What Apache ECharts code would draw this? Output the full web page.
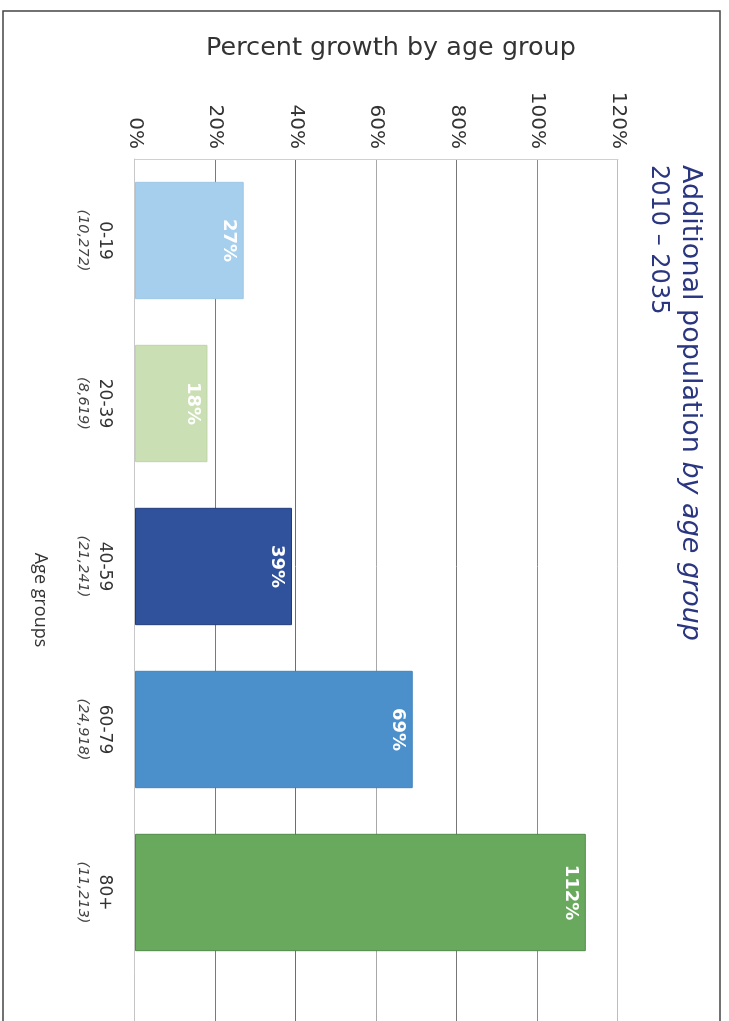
<!DOCTYPE html>
<html>
<head>
<meta charset="utf-8">
<script src="https://cdn.jsdelivr.net/npm/echarts@6/dist/echarts.min.js"></script>
<style>
  html, body { margin: 0; padding: 0; width: 729px; height: 1021px; overflow: hidden; background: #fff; }
  /* The chart is laid out as an ordinary column chart and turned a quarter turn clockwise on the page. */
  #chart {
    position: absolute; left: 0; top: 0;
    width: 1021px; height: 729px;
    transform-origin: 0 0;
    transform: translate(729px, 0) rotate(90deg);
  }
</style>
</head>
<body>
<div id="chart"></div>
<script>
// Age groups and how many people each adds, 2010 – 2035
const categories = ['0-19', '20-39', '40-59', '60-79', '80+'];
const additions = ['10,272', '8,619', '21,241', '24,918', '11,213'];
// Percent growth of each age group
const growthPct = [27, 18, 39, 69, 112];
// Percent ticks on the value axis
const pctMin = 0;
const pctMax = 120;
const pctStep = 20;

const barColors = ['#a6cfee', '#cadfb3', '#30519b', '#4b8fcb', '#69a95e'];
const barEdges = ['#9cc6e6', '#bfd5a8', '#1f3a7a', '#3f82bf', '#4f8a45'];
const gridColors = ['#c4c4c4', '#7a7a7a', '#6e6e6e', '#a8a8a8', '#777777', '#8a8a8a', '#bdbdbd'];
const navy = '#2a3680';

const chart = echarts.init(document.getElementById('chart'), null, { renderer: 'canvas' });

const valueAxisBase = {
  type: 'value',
  min: pctMin,
  max: pctMax,
  interval: pctStep,
  axisLine: { show: false },
  axisTick: { show: false },
  splitLine: { show: true, lineStyle: { color: gridColors, width: 1 } }
};

chart.setOption({
  backgroundColor: '#ffffff',
  animation: false,
  grid: [
    { left: 159, width: 815, top: 111, bottom: 135 },
    { left: 974, width: 120, top: 111, bottom: 135 }
  ],
  xAxis: [
    {
      type: 'category',
      gridIndex: 0,
      data: categories,
      axisLine: { show: true, lineStyle: { color: '#c8c8c8', width: 1 } },
      axisTick: { show: false },
      axisLabel: {
        margin: 20,
        formatter: (v, i) => '{a|' + v + '}\n{b|(' + additions[i] + ')}',
        rich: {
          a: { fontFamily: 'DejaVu Sans', fontSize: 17, color: '#333', lineHeight: 22, align: 'center' },
          b: { fontFamily: 'DejaVu Sans', fontSize: 14.5, fontStyle: 'italic', color: '#444', lineHeight: 20, align: 'center' }
        }
      }
    },
    {
      type: 'value',
      gridIndex: 1,
      show: false
    }
  ],
  yAxis: [
    Object.assign({}, valueAxisBase, {
      gridIndex: 0,
      axisLine: { show: true, lineStyle: { color: '#d0d0d0', width: 1 } },
      axisLabel: {
        margin: 10,
        formatter: '{value}%',
        fontFamily: 'DejaVu Sans',
        fontSize: 20,
        color: '#333'
      }
    }),
    Object.assign({}, valueAxisBase, {
      gridIndex: 1,
      axisLabel: { show: false }
    })
  ],
  series: [
    {
      type: 'bar',
      xAxisIndex: 0,
      yAxisIndex: 0,
      barCategoryGap: '28%',
      data: growthPct.map((v, i) => ({
        value: v,
        itemStyle: { color: barColors[i], borderColor: barEdges[i], borderWidth: 1 }
      })),
      label: {
        show: true,
        position: 'insideTop',
        distance: 6,
        formatter: '{c}%',
        color: '#ffffff',
        fontFamily: 'DejaVu Sans',
        fontWeight: 'bold',
        fontSize: 18
      }
    }
  ],
  graphic: [
    {
      type: 'rect',
      shape: { x: 11, y: 9, width: 1200, height: 717 },
      style: { fill: 'none', stroke: '#444', lineWidth: 1.5 },
      silent: true
    },
    {
      type: 'text',
      x: 165,
      y: 39,
      style: {
        text: '{n|Additional population }{i|by age group}',
        verticalAlign: 'middle',
        align: 'left',
        rich: {
          n: { fontFamily: 'DejaVu Sans', fontSize: 27, fill: navy },
          i: { fontFamily: 'DejaVu Sans', fontSize: 27, fontStyle: 'italic', fill: navy }
        }
      }
    },
    {
      type: 'text',
      x: 165,
      y: 71,
      style: {
        text: '2010 – 2035',
        fontFamily: 'DejaVu Sans',
        fontSize: 24,
        fill: navy,
        verticalAlign: 'middle',
        align: 'left'
      }
    },
    {
      type: 'text',
      x: 48,
      y: 338,
      rotation: Math.PI / 2,
      style: {
        text: 'Percent growth by age group',
        fontFamily: 'DejaVu Sans',
        fontSize: 25.5,
        fill: '#333',
        align: 'center',
        verticalAlign: 'middle'
      }
    },
    {
      type: 'text',
      x: 600,
      y: 689,
      style: {
        text: 'Age groups',
        fontFamily: 'Open Sans',
        fontSize: 18,
        fill: '#333',
        align: 'center',
        verticalAlign: 'middle'
      }
    }
  ]
});
</script>
</body>
</html>
